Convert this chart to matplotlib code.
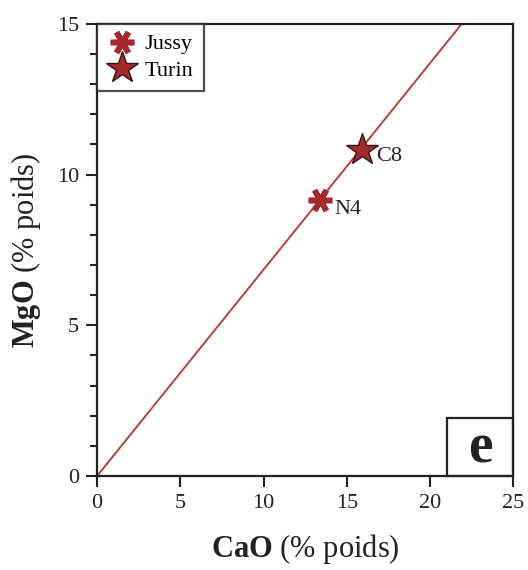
import matplotlib
matplotlib.use("Agg")
import matplotlib.pyplot as plt
from matplotlib.ticker import MultipleLocator
from matplotlib.patches import Rectangle

plt.rcParams['font.family'] = ['Liberation Serif', 'DejaVu Serif']
plt.rcParams['mathtext.fontset'] = 'custom'
plt.rcParams['mathtext.rm'] = 'Liberation Serif'
plt.rcParams['mathtext.bf'] = 'Liberation Serif:bold'

# data
line_x = [0, 25]
line_y = [0, 17.12]
jussy_x = [13.4]
jussy_y = [9.15]
jussy_lab = ["N4"]
turin_x = [15.9]
turin_y = [10.82]
turin_lab = ["C8"]

fig = plt.figure(figsize=(5.28, 5.70), dpi=100)
ax = fig.add_axes([0.184, 0.165, 0.788, 0.793])

ax.plot(line_x, line_y, color="#b84038", lw=1.4, zorder=2)
ax.plot(jussy_x, jussy_y, ls="none", marker=(6, 2, 90), ms=17, mew=4,
        color="#a52a2e", label="Jussy", zorder=3)
ax.plot(turin_x, turin_y, ls="none", marker="*", ms=24, mfc="#a52a2e",
        mec="#3a1010", mew=1.0, label="Turin", zorder=3)

for x, y, t in zip(jussy_x, jussy_y, jussy_lab):
    ax.annotate(t, (x, y), xytext=(10, -10), textcoords="offset points",
                fontsize=16, color="#222222")
for x, y, t in zip(turin_x, turin_y, turin_lab):
    ax.annotate(t, (x, y), xytext=(10, -8), textcoords="offset points",
                fontsize=16, color="#222222")

ax.set_xlim(0, 25)
ax.set_ylim(0, 15)
ax.set_xticks([0, 5, 10, 15, 20, 25])
ax.set_yticks([0, 5, 10, 15])
ax.yaxis.set_minor_locator(MultipleLocator(1))
ax.tick_params(axis="both", which="major", direction="out", length=8,
               width=1.5, labelsize=16, pad=5, colors="#222222")
ax.tick_params(axis="y", which="minor", direction="out", length=5, width=1.5,
               colors="#222222")
for s in ax.spines.values():
    s.set_linewidth(1.6)
    s.set_color("#222222")

ax.set_xlabel(r"$\bf{CaO}$ (% poids)", fontsize=22, labelpad=14, color="#222222")
ax.set_ylabel(r"$\bf{MgO}$ (% poids)", fontsize=22, labelpad=10, color="#222222")

leg = ax.legend(loc="upper left", fontsize=16, frameon=True, fancybox=False,
                borderaxespad=0, handletextpad=0.4, borderpad=0.45,
                labelspacing=0.25, handlelength=1.3)
leg.get_frame().set_edgecolor("#222222")
leg.get_frame().set_linewidth(1.6)

ax.add_patch(Rectangle((21.05, 0), 3.95, 1.92, fill=False, lw=1.6,
                       ec="#222222", zorder=4, clip_on=False))
ax.text(23.0, 0.9, "e", fontsize=40, fontweight="bold", ha="center",
        va="center", color="#222222")

fig.savefig("out.png", dpi=100)
